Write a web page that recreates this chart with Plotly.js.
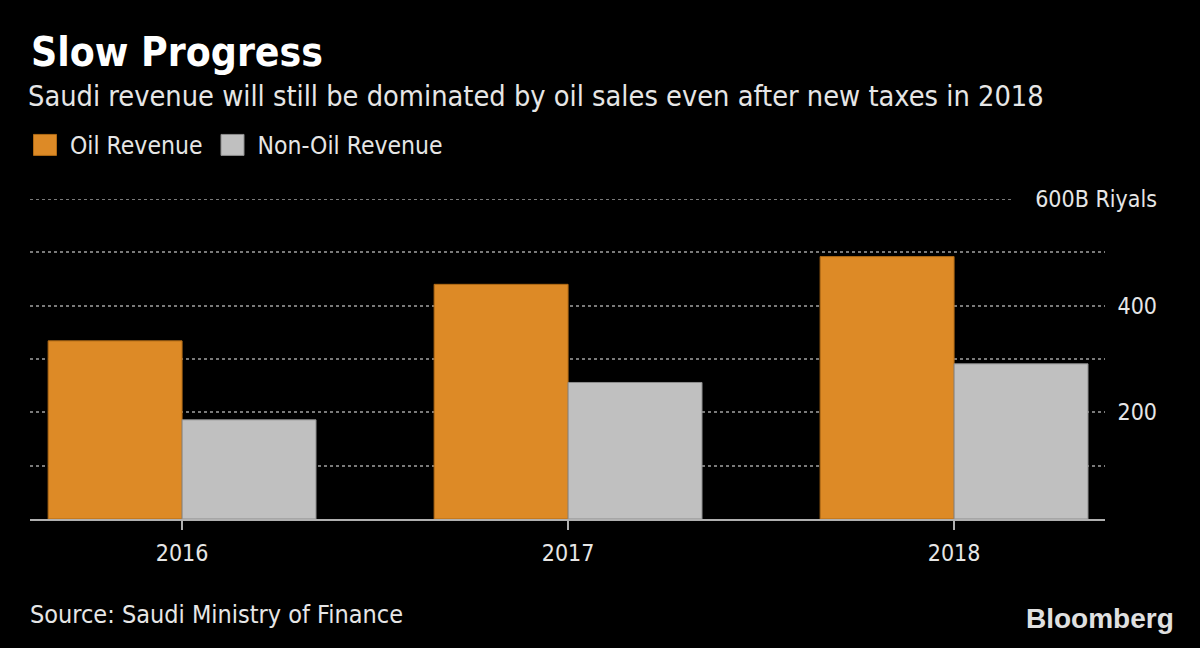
<!DOCTYPE html>
<html>
<head>
<meta charset="utf-8">
<script src="https://cdn.plot.ly/plotly-3.0.1.min.js"></script>
<style>html,body{margin:0;padding:0;background:#000;}#chart{width:1200px;height:648px;}</style>
</head>
<body>
<div id="chart"></div>
<script>
// Data
const years = ['2016', '2017', '2018'];
const oilRevenue = [334, 440, 492];
const nonOilRevenue = [186, 256, 291];
const gridValues = [100, 200, 300, 400, 500];
const labelValues = [200, 400, 600];
const labelText = ['200', '400', '600B Riyals'];

const FONT = '"Liberation Sans Narrow", "DejaVu Sans Condensed", "DejaVu Sans", sans-serif';
const TXT = '#e6e6e6';

const traces = [
  {
    type: 'bar', name: 'Oil Revenue', x: years, y: oilRevenue,
    marker: {color: '#DD8A26', line: {color: '#b06a15', width: 1}},
    hoverinfo: 'skip'
  },
  {
    type: 'bar', name: 'Non-Oil Revenue', x: years, y: nonOilRevenue,
    marker: {color: '#C0C0C0', line: {color: '#8c8c8c', width: 1}},
    hoverinfo: 'skip'
  },
  { type: 'scatter', x: [], y: [], yaxis: 'y2', showlegend: false, hoverinfo: 'skip' }
];

const layout = {
  width: 1200, height: 648,
  paper_bgcolor: '#000', plot_bgcolor: '#000',
  font: {family: FONT, color: TXT},
  margin: {l: 30, r: 40, t: 199, b: 129, pad: 0},
  barmode: 'group', bargap: 0.306, bargroupgap: 0,
  title: {
    text: '<b>Slow Progress</b>',
    font: {family: FONT, size: 40.5, color: '#ffffff'},
    xref: 'container', x: 31/1200, xanchor: 'left',
    yref: 'container', y: 1 - 52/648, yanchor: 'middle'
  },
  showlegend: true,
  legend: {
    orientation: 'h', x: -10/1130, xanchor: 'left', y: (519-145)/320, yanchor: 'middle',
    font: {family: FONT, size: 24.5, color: TXT}, bgcolor: 'rgba(0,0,0,0)',
    itemwidth: 40, traceorder: 'normal', itemclick: false, itemdoubleclick: false
  },
  xaxis: {
    type: 'category', domain: [0, 1075/1130], range: [-0.394, 2.391],
    showline: true, linecolor: '#b0b0b0', linewidth: 1.5,
    ticks: 'outside', ticklen: 9, tickcolor: '#b0b0b0', tickwidth: 1.5,
    ticklabelstandoff: 4,
    tickfont: {family: FONT, size: 23, color: TXT},
    showgrid: false, zeroline: false, fixedrange: true
  },
  yaxis: {
    range: [0, 600], tickvals: gridValues, showticklabels: false,
    showgrid: true, gridcolor: '#7a7a7a', gridwidth: 2, griddash: 'dot',
    zeroline: false, showline: false, ticks: '', fixedrange: true
  },
  yaxis2: {
    overlaying: 'y', anchor: 'free', position: 1, side: 'right',
    range: [0, 600], tickvals: labelValues, ticktext: labelText,
    ticklabelposition: 'inside', ticklabeloverflow: 'allow',
    showgrid: false, zeroline: false, showline: false,
    ticks: '', tickfont: {family: FONT, size: 23, color: TXT}, fixedrange: true
  },
  shapes: [
    { type: 'line', xref: 'paper', yref: 'y', x0: 0, x1: (1013-30)/1130, y0: 600, y1: 600,
      line: {color: '#7a7a7a', width: 2, dash: 'dot'} }
  ],
  annotations: [
    { text: 'Saudi revenue will still be dominated by oil sales even after new taxes in 2018',
      xref: 'paper', yref: 'paper', x: -4/1130, xanchor: 'left', y: (519-96)/320, yanchor: 'middle',
      showarrow: false, font: {family: FONT, size: 28.7, color: TXT} },
    { text: 'Source: Saudi Ministry of Finance',
      xref: 'paper', yref: 'paper', x: -2/1130, xanchor: 'left', y: (519-614)/320, yanchor: 'middle',
      showarrow: false, font: {family: FONT, size: 25, color: TXT} },
    { text: '<b>Bloomberg</b>',
      xref: 'paper', yref: 'paper', x: (1176-30)/1130, xanchor: 'right', y: (519-618)/320, yanchor: 'middle',
      showarrow: false, font: {family: '"Liberation Sans", Arial, sans-serif', size: 28, color: '#e0e0e0'} }
  ]
};

Plotly.newPlot('chart', traces, layout, {displayModeBar: false, staticPlot: true}).then(function (gd) {
  // enlarge the legend swatches to match the reference's larger squares
  gd.querySelectorAll('.legendpoints path').forEach(function (p) {
    p.setAttribute('d', 'M11.5,10.5H-11.5V-10.5H11.5Z');
  });
});
</script>
</body>
</html>
